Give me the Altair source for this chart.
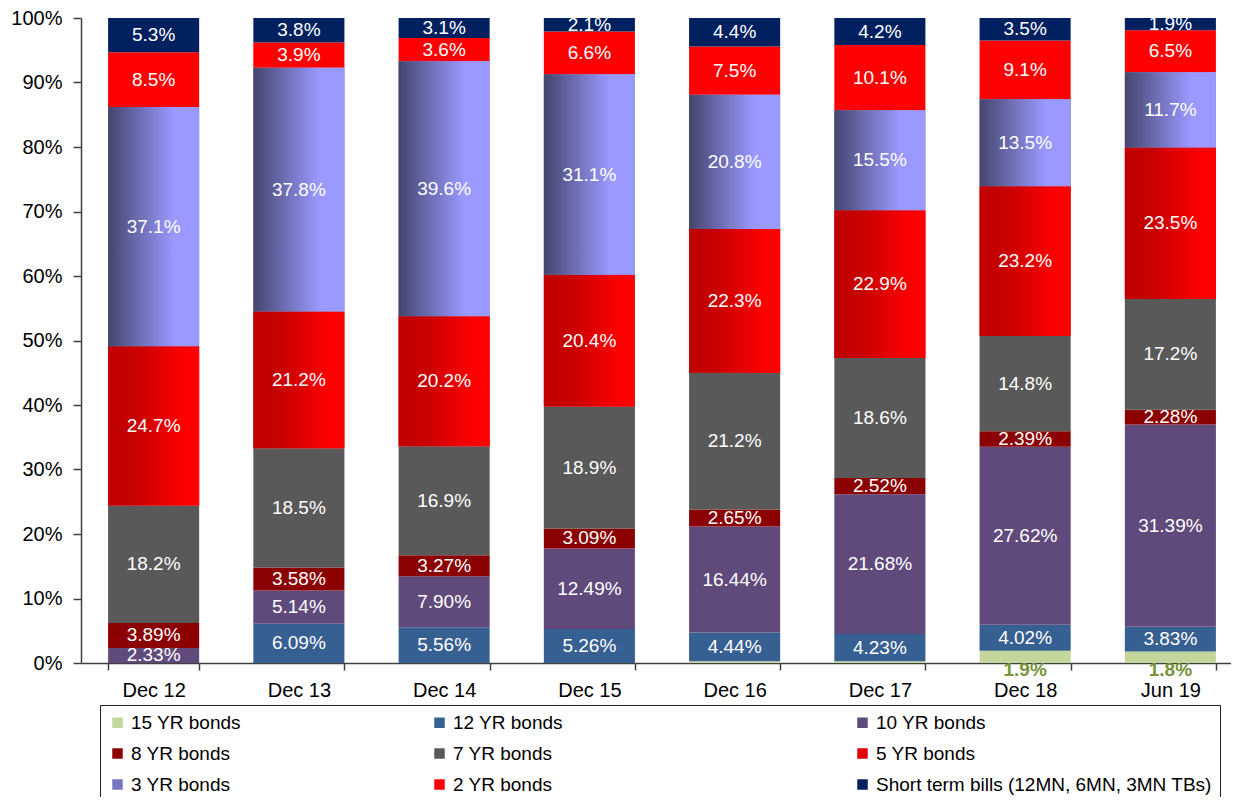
import altair as alt
import pandas as pd

periods = ["Dec 12", "Dec 13", "Dec 14", "Dec 15", "Dec 16", "Dec 17", "Dec 18", "Jun 19"]
series_names = [
    "15 YR bonds", "12 YR bonds", "10 YR bonds",
    "8 YR bonds", "7 YR bonds", "5 YR bonds",
    "3 YR bonds", "2 YR bonds", "Short term bills (12MN, 6MN, 3MN TBs)",
]
yr15 = [0, 0, 0, 0, 0.27, 0.27, 1.9, 1.8]
yr12 = [0, 6.09, 5.56, 5.26, 4.44, 4.23, 4.02, 3.83]
yr10 = [2.33, 5.14, 7.90, 12.49, 16.44, 21.68, 27.62, 31.39]
yr8 = [3.89, 3.58, 3.27, 3.09, 2.65, 2.52, 2.39, 2.28]
yr7 = [18.2, 18.5, 16.9, 18.9, 21.2, 18.6, 14.8, 17.2]
yr5 = [24.7, 21.2, 20.2, 20.4, 22.3, 22.9, 23.2, 23.5]
yr3 = [37.1, 37.8, 39.6, 31.1, 20.8, 15.5, 13.5, 11.7]
yr2 = [8.5, 3.9, 3.6, 6.6, 7.5, 10.1, 9.1, 6.5]
bills = [5.3, 3.8, 3.1, 2.1, 4.4, 4.2, 3.5, 1.9]
decimals = [1, 2, 2, 2, 1, 1, 1, 1, 1]
colors = ["#C3D69B", "#376092", "#604A7B", "#8B0000", "#595959",
          "#E00000", "#7777C0", "#FF0000", "#002060"]

all_series = [yr15, yr12, yr10, yr8, yr7, yr5, yr3, yr2, bills]
rows = []
for si, (name, vals, dec) in enumerate(zip(series_names, all_series, decimals)):
    for p, v in zip(periods, vals):
        rows.append({"period": p, "series": name, "order": si, "value": v,
                     "label": f"{v:.{dec}f}%"})
df = pd.DataFrame(rows)

FONT = "Liberation Sans"
AX = "#404040"
pad_str = "\u00a0" * 19 + "\u200b"

x_scale = alt.Scale(paddingInner=0.373, paddingOuter=0.1865, range=[0, 1162])
x_enc = alt.X("period:N", sort=periods, title=None, scale=x_scale,
              axis=alt.Axis(labelAngle=0, tickBand="extent", tickSize=7, labelPadding=10,
                            labelFontSize=20, labelColor="black", domainColor=AX,
                            domainWidth=1.5, tickColor=AX, tickWidth=1.5))
y_scale = alt.Scale(domain=[0, 1], nice=False)
y_enc = alt.Y("y0:Q", scale=y_scale, title=None,
              axis=alt.Axis(format=".0%", values=[0, 0.1, 0.2, 0.3, 0.4, 0.5, 0.6, 0.7, 0.8, 0.9, 1.0],
                            grid=False, tickSize=8, labelPadding=11, labelFontSize=20,
                            labelColor="black", domainColor=AX, domainWidth=1.5,
                            tickColor=AX, tickWidth=1.5))

bars = alt.Chart().mark_bar().encode(
    x=x_enc,
    y=y_enc,
    y2="y1:Q",
    color=alt.Color("series:N", title=None,
                    scale=alt.Scale(domain=series_names, range=colors),
                    legend=alt.Legend(orient="none", direction="horizontal",
                                      legendX=19, legendY=687, columns=3,
                                      columnPadding=189, rowPadding=11, symbolType="square",
                                      symbolSize=110, symbolStrokeWidth=0, labelFontSize=19,
                                      labelFont=FONT, labelColor="black", labelLimit=600,
                                      labelOffset=4, padding=8, strokeColor="#222222",
                                      fillColor="white",
                                      labelExpr="datum.label == '12 YR bonds' ? datum.label + '" + pad_str + "' : datum.label")),
)

grad5 = alt.Chart().mark_bar(
    color=alt.Gradient(gradient="linear", x1=0, x2=1, y1=0, y2=0,
                       stops=[alt.GradientStop(color="#C00000", offset=0),
                              alt.GradientStop(color="#C80000", offset=0.3),
                              alt.GradientStop(color="#FF0000", offset=0.85),
                              alt.GradientStop(color="#FF0000", offset=1)])
).encode(x=x_enc, y=y_enc, y2="y1:Q").transform_filter("datum.order == 5")

grad3 = alt.Chart().mark_bar(
    color=alt.Gradient(gradient="linear", x1=0, x2=1, y1=0, y2=0,
                       stops=[alt.GradientStop(color="#45456E", offset=0),
                              alt.GradientStop(color="#9999FF", offset=0.72),
                              alt.GradientStop(color="#9999FF", offset=1)])
).encode(x=x_enc, y=y_enc, y2="y1:Q").transform_filter("datum.order == 6")

text_w = alt.Chart().mark_text(color="white", fontSize=19, font=FONT, baseline="middle").encode(
    x=alt.X("period:N", sort=periods, scale=x_scale),
    y=alt.Y("mid:Q", scale=y_scale),
    text="label:N",
).transform_filter("datum.order > 0 && datum.value > 0")

text_g = alt.Chart().mark_text(color="#77933C", fontSize=19, font=FONT, fontWeight="bold",
                               baseline="middle").encode(
    x=alt.X("period:N", sort=periods, scale=x_scale),
    y=alt.Y("below:Q", scale=y_scale),
    text="label:N",
).transform_filter("datum.order == 0 && datum.value >= 1").transform_calculate(below="-0.011")

chart = alt.layer(bars, grad5, grad3, text_w, text_g, data=df).transform_stack(
    stack="value", groupby=["period"], as_=["y0", "y1"], offset="normalize",
    sort=[alt.SortField("order", order="ascending")],
).transform_calculate(
    mid="(datum.y0 + datum.y1) / 2"
).properties(
    width=1150, height=645,
    autosize=alt.AutoSizeParams(type="none"),
    padding={"left": 73, "top": 10, "right": 0, "bottom": 134},
).configure(font=FONT).configure_view(strokeWidth=0)

chart.save("out.html", embed_options={"renderer": "svg", "actions": False})
